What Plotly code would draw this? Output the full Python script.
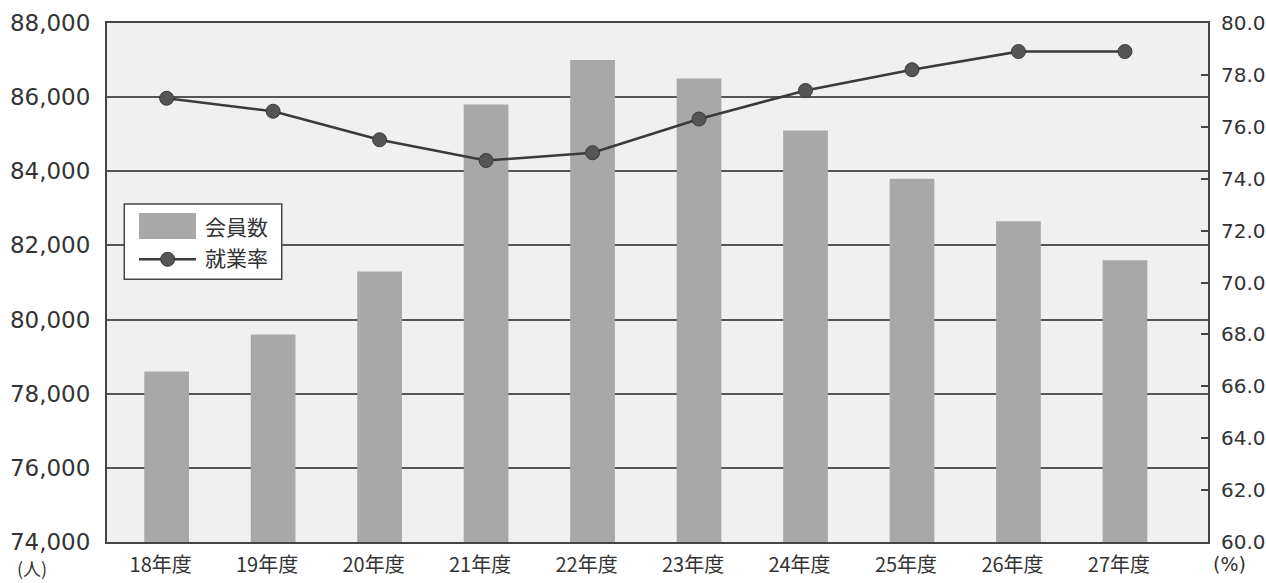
import plotly.graph_objects as go

# 年度ごとの会員数と就業率
years = ["18年度", "19年度", "20年度", "21年度", "22年度",
         "23年度", "24年度", "25年度", "26年度", "27年度"]
members = [78600, 79600, 81300, 85800, 87000, 86500, 85100, 83800, 82650, 81600]
employment_rate = [77.1, 76.6, 75.5, 74.7, 75.0, 76.3, 77.4, 78.2, 78.9, 78.9]

left_ticks = [74000, 76000, 78000, 80000, 82000, 84000, 86000, 88000]
right_ticks = [60.0, 62.0, 64.0, 66.0, 68.0, 70.0, 72.0, 74.0, 76.0, 78.0, 80.0]

TEXT = "#333333"
DARK = "#454545"
FONT = "DejaVu Sans, Noto Sans CJK JP, sans-serif"
CJK = "Noto Sans CJK JP, sans-serif"

fig = go.Figure()

fig.add_trace(go.Bar(
    x=years, y=members, name="会員数",
    marker=dict(color="#a8a8a8", line=dict(width=0)),
    width=0.42, yaxis="y", showlegend=False,
))

fig.add_trace(go.Scatter(
    x=years, y=employment_rate, name="就業率",
    mode="lines+markers", yaxis="y2",
    line=dict(color="#3a3a3a", width=2.5),
    marker=dict(size=14, color="#555555", line=dict(color="#3a3a3a", width=1)),
    showlegend=False,
))

# 凡例（枠・見本・ラベル）
shapes = [
    dict(type="rect", xref="paper", yref="paper",
         x0=0.0157, x1=0.1587, y0=0.5062, y1=0.6513,
         fillcolor="white", line=dict(color=DARK, width=1.5), layer="above"),
    dict(type="rect", xref="paper", yref="paper",
         x0=0.0291, x1=0.0808, y0=0.5838, y1=0.6339,
         fillcolor="#a8a8a8", line=dict(width=0), layer="above"),
    dict(type="line", xref="paper", yref="paper",
         x0=0.0291, x1=0.0808, y0=0.5447, y1=0.5447,
         line=dict(color="#3a3a3a", width=2.5), layer="above"),
    dict(type="circle", xref="paper", yref="paper",
         xsizemode="pixel", ysizemode="pixel",
         xanchor=0.0551, yanchor=0.5447,
         x0=-7, x1=7, y0=-7, y1=7,
         fillcolor="#555555", line=dict(color="#3a3a3a", width=1), layer="above"),
]

annotations = [
    dict(text="会員数", xref="paper", yref="paper", x=0.0872, y=0.6094,
         xanchor="left", yanchor="middle", showarrow=False,
         font=dict(family=CJK, size=21, color=TEXT)),
    dict(text="就業率", xref="paper", yref="paper", x=0.0872, y=0.5497,
         xanchor="left", yanchor="middle", showarrow=False,
         font=dict(family=CJK, size=21, color=TEXT)),
    dict(text="(人)", xref="paper", yref="paper", x=-0.0677, y=-0.0501,
         xanchor="center", yanchor="middle", showarrow=False, borderpad=0,
         font=dict(family=CJK, size=18, color=TEXT)),
    dict(text="(%)", xref="paper", yref="paper", x=1.0197, y=-0.0424,
         xanchor="center", yanchor="middle", showarrow=False,
         font=dict(family=FONT, size=19, color=TEXT)),
]

fig.update_layout(
    width=1266, height=583,
    margin=dict(l=107, r=58, t=23, b=41, autoexpand=False),
    paper_bgcolor="white",
    plot_bgcolor="#f0f0f0",
    bargap=0.5,
    shapes=shapes,
    annotations=annotations,
    xaxis=dict(
        type="category", range=[-0.56, 9.78], automargin=False,
        showline=True, mirror=True, linecolor=DARK, linewidth=2,
        ticks="outside", ticklen=4, tickcolor="rgba(0,0,0,0)",
        ticklabelshift=-6,
        tickfont=dict(family=CJK, size=20, color=TEXT),
        showgrid=False, zeroline=False,
    ),
    yaxis=dict(
        range=[74000, 88000], tickvals=left_ticks, tickformat=",",
        automargin=False,
        showline=True, mirror=True, linecolor=DARK, linewidth=2,
        showgrid=True, gridcolor="#555555", gridwidth=1.5,
        ticks="outside", ticklen=10, tickcolor="rgba(0,0,0,0)",
        tickfont=dict(family=FONT, size=23, color=TEXT),
        zeroline=False,
    ),
    yaxis2=dict(
        range=[60, 80], tickvals=right_ticks, tickformat=".1f",
        overlaying="y", side="right", automargin=False,
        showgrid=False, zeroline=False, showline=False,
        ticks="inside", ticklen=7, tickcolor=DARK, tickwidth=1.5,
        ticklabelstandoff=12,
        tickfont=dict(family=FONT, size=20, color=TEXT),
    ),
)

fig.write_html("out.html")
